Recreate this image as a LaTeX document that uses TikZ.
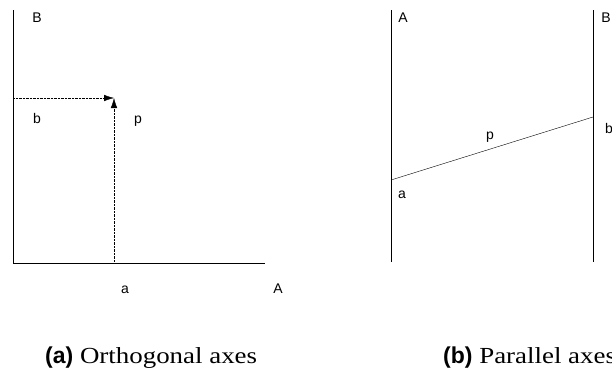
\documentclass[tikz,border=0pt]{standalone}
\usepackage{fontspec}
\setmainfont{Liberation Serif}
\setsansfont{Liberation Sans}
\newfontfamily\capfont[FakeStretch=1.17]{Liberation Serif}
\usetikzlibrary{arrows.meta}

\begin{document}
\begin{tikzpicture}[x=1pt, y=-1pt, >={Latex[length=10pt,width=6.5pt]},
  font=\sffamily\fontsize{14}{16}\selectfont,
  lbl/.style={anchor=base, inner sep=0pt},
  captext/.style={anchor=base west, inner sep=0pt, font=\capfont\fontsize{23}{27}\selectfont}]
\useasboundingbox (0,0) rectangle (612,372);
% orthogonal axes
\coordinate (O) at (13,263);
\coordinate (Btop) at (13,10);
\coordinate (Aend) at (265,263);
\coordinate (P) at (114,98);
\coordinate (Pa) at (114,263);
\coordinate (Pb) at (13,98);
\draw (Btop) -- (O) -- (Aend);
\draw[densely dotted, ->] (Pb) -- (P);
\draw[densely dotted, ->] (Pa) -- (P);
\node[lbl] (oB) at (37,22) {B};
\node[lbl] (oA) at (278,293) {A};
\node[lbl] (oa) at (125,293) {a};
\node[lbl] (ob) at (37,123) {b};
\node[lbl] (op) at (138,123) {p};
% parallel axes
\coordinate (Atop) at (391,10);
\coordinate (Abot) at (391,262);
\coordinate (Btop2) at (593,10);
\coordinate (Bbot2) at (593,262);
\coordinate (pa) at (391,180);
\coordinate (pb) at (593,117);
\draw (Atop) -- (Abot);
\draw (Btop2) -- (Bbot2);
\draw (pa) -- (pb);
\node[lbl] (pA) at (403,22) {A};
\node[lbl] (pB) at (606,22) {B};
\node[lbl] (pla) at (402,198) {a};
\node[lbl] (plb) at (609,133) {b};
\node[lbl] (plp) at (490,139) {p};
% captions
\node[captext] (capa) at (45,363) {\textsf{\bfseries (a)} Orthogonal axes};
\node[captext] (capb) at (443,363) {\textsf{\bfseries (b)} Parallel axes};
\end{tikzpicture}
\end{document}
